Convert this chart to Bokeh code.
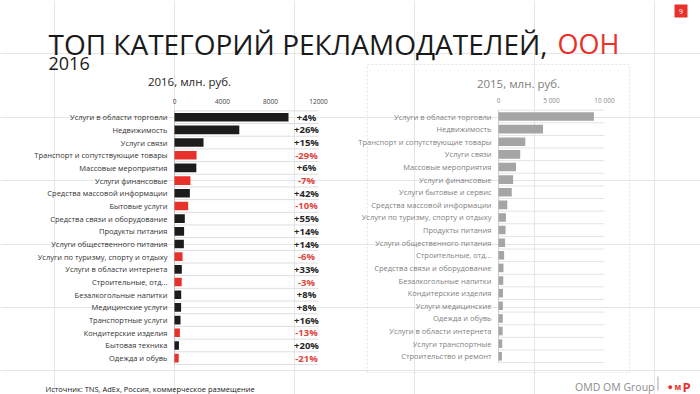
import numpy as np
from bokeh.plotting import figure
from bokeh.models import Range1d, ColumnDataSource, Label, BoxAnnotation
from bokeh.core.properties import value
from bokeh.embed import file_html
from bokeh.resources import INLINE

# ---------------- data ----------------
cats_2016 = ["Услуги в области торговли", "Недвижимость", "Услуги связи",
             "Транспорт и сопутствующие товары", "Массовые мероприятия",
             "Услуги финансовые", "Средства массовой информации", "Бытовые услуги",
             "Средства связи и оборудование", "Продукты питания",
             "Услуги общественного питания", "Услуги по туризму, спорту и отдыху",
             "Услуги в области интернета", "Строительные, отд...",
             "Безалкогольные напитки", "Медицинские услуги", "Транспортные услуги",
             "Кондитерские изделия", "Бытовая техника", "Одежда и обувь"]
vals_2016 = [9500, 5400, 2420, 1840, 1820, 1330, 1280, 1140, 860, 800,
             780, 670, 610, 600, 560, 550, 500, 450, 370, 350]
change_2016 = [4, 26, 15, -29, 6, -7, 42, -10, 55, 14,
               14, -6, 33, -3, 8, 8, 16, -13, 20, -21]
ticks_2016 = [0, 4000, 8000, 12000]
tick_labels_2016 = ["0", "4000", "8000", "12000"]

cats_2015 = ["Услуги в области торговли", "Недвижимость",
             "Транспорт и сопутствующие товары", "Услуги связи",
             "Массовые мероприятия", "Услуги финансовые", "Услуги бытовые и сервис",
             "Средства массовой информации", "Услуги по туризму, спорту и отдыху",
             "Продукты питания", "Услуги общественного питания", "Строительные, отд...",
             "Средства связи и оборудование", "Безалкогольные напитки",
             "Кондитерские изделия", "Услуги медицинские", "Одежда и обувь",
             "Услуги в области интернета", "Услуги транспортные", "Строительство и ремонт"]
vals_2015 = [9000, 4200, 2530, 2050, 1650, 1380, 1250, 830, 700, 670,
             620, 530, 470, 450, 420, 410, 400, 390, 350, 320]
ticks_2015 = [0, 5000, 10000]
tick_labels_2015 = ["0", "5 000", "10 000"]

# ---------------- layout ----------------
W, H = 700, 394
FONT = "Open Sans"
L_X0, L_PX = 174.0, 144.0 / 12000.0   # canvas x of value 0, px per unit (left)
R_X0, R_PX = 498.0, 106.0 / 10000.0   # right chart
L_Y0, L_DY = 116.7, 12.68             # canvas y of first row, row step
R_Y0, R_DY = 116.0, 12.62

def dx(px):
    return (px - L_X0) / L_PX

def dy(py):
    return (py - L_Y0) / L_DY

def rdy(py):
    return (py - R_Y0) / R_DY

p = figure(width=W, height=H,
           x_range=Range1d(-L_X0 / L_PX, (W - L_X0) / L_PX),
           y_range=Range1d((H - L_Y0) / L_DY, -L_Y0 / L_DY),
           output_backend="svg", toolbar_location=None,
           x_axis_location=None, y_axis_location=None, min_border=0)
p.outline_line_color = None
p.background_fill_color = "white"
p.border_fill_color = "white"
p.extra_x_ranges = {"r": Range1d(-R_X0 / R_PX, (W - R_X0) / R_PX)}
p.extra_y_ranges = {"r": Range1d((H - R_Y0) / R_DY, -R_Y0 / R_DY)}

RED = "#e8312a"
n16 = len(cats_2016)
n15 = len(cats_2015)
y16 = np.arange(n16)
y15 = np.arange(n15)

# ---------- left chart (2016) ----------
p.segment(x0=0, x1=ticks_2016[-1], y0=np.arange(n16 + 1) - 0.5, y1=np.arange(n16 + 1) - 0.5,
          line_color="#dedede", line_width=1)
p.segment(x0=[0], x1=[0], y0=[-0.5], y1=[n16 - 0.5], line_color="#bfbfbf", line_width=1)

src16 = ColumnDataSource(dict(
    y=y16, v=vals_2016, cat=cats_2016,
    color=[RED if c < 0 else "#1c1c1c" for c in change_2016],
    pct=[("+%d%%" % c) if c >= 0 else ("-%d%%" % -c) for c in change_2016],
    pcol=["#e0443c" if c < 0 else "#262626" for c in change_2016],
))
p.hbar(y="y", left=0, right="v", height=0.68, fill_color="color", line_color=None, source=src16)
p.text(x=0, y="y", text="cat", x_offset=-7, text_align="right", text_baseline="middle",
       text_font=value(FONT), text_font_size="7.5px", text_color="#333333", source=src16)
p.text(x=ticks_2016[-1], y="y", text="pct", x_offset=-12, text_align="center",
       text_baseline="middle", text_font=value(FONT), text_font_size="9.5px",
       text_font_style="bold", text_color="pcol", source=src16)
p.text(x=ticks_2016, y=[dy(100.7)] * len(ticks_2016), text=tick_labels_2016,
       text_align="center", text_baseline="middle", text_font=value(FONT),
       text_font_size="6.5px", text_color="#404040")

# ---------- right chart (2015) ----------
p.segment(x0=0, x1=ticks_2015[-1], y0=np.arange(n15 + 1) - 0.5, y1=np.arange(n15 + 1) - 0.5,
          line_color="#e4e4e4", line_width=1, x_range_name="r", y_range_name="r")
p.segment(x0=[0], x1=[0], y0=[-0.5], y1=[n15 - 0.5], line_color="#cfcfcf", line_width=1,
          x_range_name="r", y_range_name="r")
src15 = ColumnDataSource(dict(y=y15, v=vals_2015, cat=cats_2015))
p.hbar(y="y", left=0, right="v", height=0.68, fill_color="#a5a5a5", line_color=None,
       source=src15, x_range_name="r", y_range_name="r")
p.text(x=0, y="y", text="cat", x_offset=-7, text_align="right", text_baseline="middle",
       text_font=value(FONT), text_font_size="7.5px", text_color="#7f7f7f", source=src15,
       x_range_name="r", y_range_name="r")
p.text(x=ticks_2015, y=[rdy(100.3)] * len(ticks_2015), text=tick_labels_2015,
       text_align="center", text_baseline="middle", text_font=value(FONT),
       text_font_size="6.5px", text_color="#8c8c8c", x_range_name="r", y_range_name="r")

# ---------- decorations ----------
p.add_layout(BoxAnnotation(left=dx(367), right=dx(629), top=dy(64), bottom=dy(372),
                           fill_color=None, fill_alpha=0, line_color="#a6a6a6",
                           line_dash="2 2", line_width=1))
p.add_layout(BoxAnnotation(left=dx(674), right=dx(687), top=dy(4), bottom=dy(17),
                           fill_color=RED, fill_alpha=1, line_color=None))
p.add_layout(BoxAnnotation(left=dx(657), right=dx(658), top=dy(376), bottom=dy(390),
                           fill_color="#a6a6a6", fill_alpha=1, line_color=None))

def lab(x, y, text, size, color="#1a1a1a", align="left", baseline="alphabetic", style="normal"):
    p.add_layout(Label(x=dx(x), y=dy(y), text=text, text_font=FONT, text_font_size=size,
                       text_color=color, text_align=align, text_baseline=baseline,
                       text_font_style=style))

lab(48, 43, "ТОП КАТЕГОРИЙ РЕКЛАМОДАТЕЛЕЙ,", "28px", "#1a1a1a")
lab(557, 43, "ООН", "27px", RED)
lab(48, 63, "2016", "18px", "#1a1a1a")
lab(189, 81, "2016, млн. руб.", "11.5px", "#262626", align="center", baseline="middle")
lab(518, 82.7, "2015, млн. руб.", "11.5px", "#7f7f7f", align="center", baseline="middle")
lab(680.5, 11, "9", "7px", "white", align="center", baseline="middle")
lab(45, 388, "Источник: TNS, AdEx, Россия, коммерческое размещение", "7.5px", "#1a1a1a")
lab(654, 386, "OMD OM Group", "10.5px", "#8c8c8c", align="right")
lab(667, 386, "●", "9px", RED)
lab(674, 386, "м", "8px", RED, style="bold")
lab(682, 386, "P", "13px", RED, style="bold")

open("out.html", "w").write(file_html(p, INLINE))
